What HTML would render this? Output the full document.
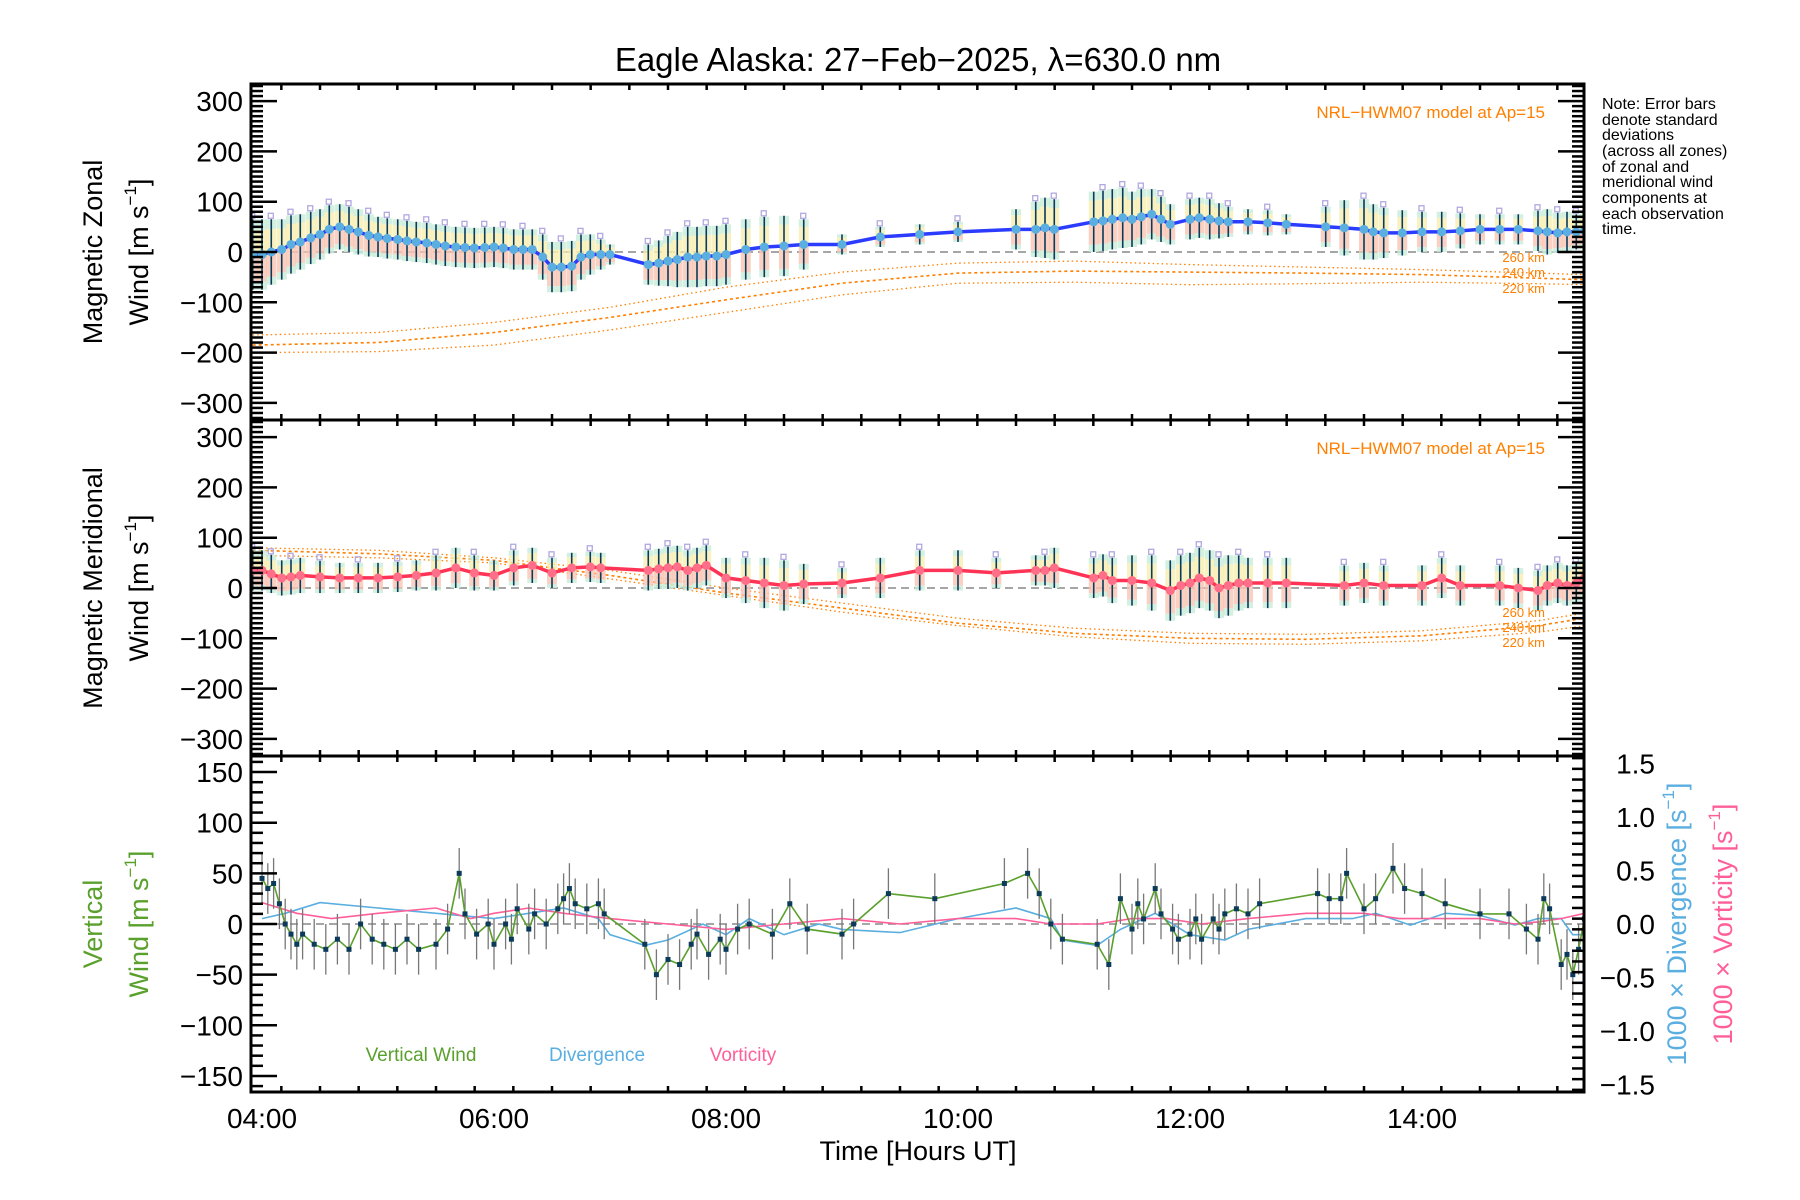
<!DOCTYPE html>
<html><head><meta charset="utf-8"><style>
html,body{margin:0;padding:0;background:#fff;}
svg{display:block;font-family:"Liberation Sans",sans-serif;}
</style></head><body>
<svg id="chart" width="1800" height="1200" viewBox="0 0 1800 1200" xmlns="http://www.w3.org/2000/svg">
<rect width="1800" height="1200" fill="#fff"/>
<text x="918" y="71" font-size="33" text-anchor="middle">Eagle Alaska: 27−Feb−2025, λ=630.0 nm</text>
<g font-size="16">
<text x="1602" y="109">Note: Error bars</text>
<text x="1602" y="125">denote standard</text>
<text x="1602" y="140">deviations</text>
<text x="1602" y="156">(across all zones)</text>
<text x="1602" y="172">of zonal and</text>
<text x="1602" y="187">meridional wind</text>
<text x="1602" y="203">components at</text>
<text x="1602" y="219">each observation</text>
<text x="1602" y="234">time.</text>
</g>
<text transform="translate(102,252) rotate(-90)" font-size="27" text-anchor="middle">Magnetic Zonal</text>
<text transform="translate(148,252) rotate(-90)" font-size="27" text-anchor="middle">Wind [m s<tspan font-size="17" dy="-12">−1</tspan><tspan dy="12">]</tspan></text>
<text transform="translate(102,588) rotate(-90)" font-size="27" text-anchor="middle">Magnetic Meridional</text>
<text transform="translate(148,588) rotate(-90)" font-size="27" text-anchor="middle">Wind [m s<tspan font-size="17" dy="-12">−1</tspan><tspan dy="12">]</tspan></text>
<text transform="translate(102,924) rotate(-90)" font-size="27" text-anchor="middle" fill="#5aa02c">Vertical</text>
<text transform="translate(148,924) rotate(-90)" font-size="27" text-anchor="middle" fill="#5aa02c">Wind [m s<tspan font-size="17" dy="-12">−1</tspan><tspan dy="12">]</tspan></text>
<text transform="translate(1686,924) rotate(-90)" font-size="27" text-anchor="middle" fill="#5aaee0">1000 × Divergence [s<tspan font-size="17" dy="-12">−1</tspan><tspan dy="12">]</tspan></text>
<text transform="translate(1732,924) rotate(-90)" font-size="27" text-anchor="middle" fill="#ff5f99">1000 × Vorticity [s<tspan font-size="17" dy="-12">−1</tspan><tspan dy="12">]</tspan></text>
<text x="918" y="1160" font-size="27" text-anchor="middle">Time [Hours UT]</text>
<text x="421" y="1061" font-size="19" fill="#5aa02c" text-anchor="middle">Vertical Wind</text>
<text x="597" y="1061" font-size="19" fill="#5aaee0" text-anchor="middle">Divergence</text>
<text x="743" y="1061" font-size="19" fill="#ff5f99" text-anchor="middle">Vorticity</text>
<g id="plot"></g>
</svg>
<script>
// ---- data ----
const zonalTimes=[3.92,4.0,4.08,4.17,4.25,4.33,4.42,4.5,4.58,4.67,4.75,4.83,4.92,5.0,5.08,5.17,5.25,5.33,5.42,5.5,5.58,5.67,5.75,5.83,5.92,6.0,6.08,6.17,6.25,6.33,6.42,6.5,6.58,6.67,6.75,6.83,6.92,7.0,7.33,7.42,7.5,7.58,7.67,7.75,7.83,7.92,8.0,8.17,8.33,8.5,8.67,9.0,9.33,9.67,10.0,10.5,10.67,10.75,10.83,11.17,11.25,11.33,11.42,11.5,11.58,11.67,11.75,11.83,12.0,12.08,12.17,12.25,12.33,12.5,12.67,12.83,13.17,13.33,13.5,13.58,13.67,13.83,14.0,14.17,14.33,14.5,14.67,14.83,15.0,15.08,15.17,15.25,15.33,15.4];
const zonalValues=[-5,-5,0,5,15,20,28,35,45,50,45,40,33,30,27,25,22,20,18,15,12,10,9,8,9,10,8,5,5,5,-10,-30,-30,-28,-10,-5,-5,-5,-25,-22,-18,-15,-10,-10,-8,-8,-5,5,10,12,15,15,30,35,40,45,45,48,45,60,62,65,68,65,70,75,65,55,65,68,65,62,60,60,58,55,50,48,45,40,38,38,40,40,42,45,45,45,42,40,38,40,40,42];
const zonalErrors=[70,70,65,60,58,55,52,50,48,45,45,45,42,40,40,40,40,40,40,40,40,40,40,40,40,40,40,40,40,40,45,50,50,50,45,40,30,20,40,45,50,55,60,60,60,60,60,60,60,60,50,20,20,20,20,40,55,60,60,60,60,60,60,55,55,50,45,40,40,40,40,35,30,25,25,20,40,55,60,55,50,45,40,40,35,30,30,30,40,45,40,40,35,35];
const meridTimes=[3.92,4.0,4.08,4.17,4.25,4.33,4.5,4.67,4.83,5.0,5.17,5.33,5.5,5.67,5.83,6.0,6.17,6.33,6.5,6.67,6.83,6.92,7.33,7.42,7.5,7.58,7.67,7.75,7.83,8.0,8.17,8.33,8.5,8.67,9.0,9.33,9.67,10.0,10.33,10.67,10.75,10.83,11.17,11.25,11.33,11.5,11.67,11.83,11.92,12.0,12.08,12.17,12.25,12.33,12.42,12.5,12.67,12.83,13.33,13.5,13.67,14.0,14.17,14.33,14.67,14.83,15.0,15.08,15.17,15.25,15.33,15.4];
const meridValues=[35,35,28,20,22,25,22,20,20,20,22,25,30,40,30,25,40,45,30,40,42,40,35,38,40,42,35,40,45,20,15,10,5,8,10,20,35,35,30,35,35,40,20,25,15,15,10,-5,5,10,20,15,0,5,10,10,10,10,5,10,5,5,20,5,5,0,-5,5,10,5,10,20];
const meridErrors=[40,40,38,35,35,35,32,30,30,30,30,30,35,40,35,30,35,35,30,30,30,30,40,40,42,42,40,40,40,40,45,50,50,40,30,40,40,40,30,30,30,40,40,42,45,50,55,60,60,60,60,60,60,60,55,50,50,50,40,40,40,40,40,40,40,40,40,40,40,40,40,40];
const modelTimes=[3.92,5.0,6.0,7.0,8.0,9.0,10.0,11.0,12.0,13.0,14.0,15.0,15.4];
const zonal260=[-165,-160,-140,-110,-70,-40,-22,-18,-25,-30,-35,-42,-45];
const zonal240=[-185,-180,-160,-130,-95,-62,-42,-38,-40,-42,-45,-52,-55];
const zonal220=[-200,-198,-185,-155,-120,-85,-62,-60,-65,-63,-60,-63,-65];
const merid260=[80,75,60,35,0,-30,-60,-80,-90,-92,-85,-65,-50];
const merid240=[75,68,55,25,-10,-40,-70,-90,-100,-102,-95,-75,-60];
const merid220=[65,60,50,18,-15,-48,-75,-97,-110,-112,-105,-88,-75];
const vertTimes=[4.0,4.05,4.1,4.15,4.2,4.25,4.3,4.35,4.45,4.55,4.65,4.75,4.85,4.95,5.05,5.15,5.25,5.35,5.5,5.6,5.7,5.75,5.85,5.95,6.0,6.1,6.15,6.2,6.3,6.35,6.45,6.55,6.6,6.65,6.7,6.8,6.9,6.95,7.3,7.4,7.5,7.6,7.7,7.75,7.85,7.95,8.0,8.1,8.2,8.4,8.55,8.7,9.0,9.1,9.4,9.8,10.4,10.6,10.7,10.8,10.9,11.2,11.3,11.4,11.5,11.55,11.6,11.7,11.75,11.85,11.9,12.0,12.05,12.1,12.2,12.25,12.3,12.4,12.5,12.6,13.1,13.2,13.3,13.35,13.5,13.6,13.75,13.85,14.0,14.2,14.5,14.75,14.9,15.0,15.05,15.1,15.2,15.25,15.3,15.35,15.4];
const vertValues=[45,35,40,20,0,-10,-20,-10,-20,-25,-15,-25,0,-15,-20,-25,-15,-25,-20,-5,50,10,-10,0,-20,0,-15,15,-5,10,0,15,25,35,20,15,20,10,-20,-50,-35,-40,-20,-10,-30,-15,-25,-5,0,-10,20,-5,-10,0,30,25,40,50,30,0,-15,-20,-40,25,-5,20,5,35,10,-5,-15,-10,5,-15,5,-5,10,15,10,20,30,25,25,50,15,25,55,35,30,20,10,10,-5,-15,25,15,-40,-30,-50,-25,5];
const divTimes=[4.0,4.2,4.5,5.0,5.5,6.0,6.3,6.6,6.9,7.0,7.3,7.5,7.8,8.0,8.2,8.5,8.8,9.0,9.5,10.0,10.5,10.8,10.9,11.2,11.4,11.7,12.0,12.3,12.5,13.0,13.4,13.6,13.9,14.2,14.5,14.8,15.0,15.2,15.3,15.4];
const divValues=[0.05,0.1,0.2,0.15,0.1,0.05,0.1,0.15,0.05,-0.1,-0.2,-0.15,0.0,-0.1,0.05,-0.1,0.0,-0.05,-0.08,0.05,0.15,0.05,-0.15,-0.2,-0.05,0.1,-0.1,-0.15,-0.05,0.05,0.05,0.1,-0.01,0.1,0.08,-0.01,0.05,0.05,-0.1,-0.1];
const vortTimes=[4.0,4.3,4.6,5.0,5.5,5.8,6.0,6.3,6.6,7.0,7.5,8.0,8.5,9.0,9.5,10.0,10.5,10.8,11.2,11.5,11.8,12.1,12.5,13.0,13.5,13.8,14.2,14.5,14.8,15.0,15.2,15.4];
const vortValues=[0.2,0.1,0.05,0.1,0.15,0.05,0.1,0.15,0.1,0.05,0.0,-0.05,0.0,0.05,0.0,0.05,0.05,0.0,0.0,0.05,0.05,0.0,0.05,0.1,0.1,0.05,0.05,0.05,0.0,0.02,0.05,0.1];
const xTickLabels=["04:00","06:00","08:00","10:00","12:00","14:00"];
const windTicks=[-300,-200,-100,0,100,200,300];
const vertTicks=[-150,-100,-50,0,50,100,150];
const rightTicks=[-1.5,-1.0,-0.5,0.0,0.5,1.0,1.5];

// ---- scales ----
const L=251,R=1584;
const P=[{top:84,bot:420,c:252},{top:420,bot:756,c:588},{top:756,bot:1092,c:924}];
const x=t=>262+(t-4)*116;
const y1=v=>252-v*0.503, y2=v=>588-v*0.503, y3=v=>924-v*1.013, yr=v=>924-v*107;
const NS="http://www.w3.org/2000/svg";
const g=document.getElementById('plot');
function mk(tag,at,parent){const e=document.createElementNS(NS,tag);for(const k in at)e.setAttribute(k,at[k]);(parent||g).appendChild(e);return e;}
function poly(ts,vs,ys){return ts.map((t,i)=>x(t).toFixed(1)+','+ys(vs[i]).toFixed(1)).join(' ');}

const clip=mk('clipPath',{id:'cp'});mk('rect',{x:L,y:84,width:R-L,height:1008},clip);
const plotArea=mk('g',{'clip-path':'url(#cp)'});

[y1(0),y2(0),y3(0)].forEach((yy,i)=>{
 const e=mk('line',{x1:L,x2:R,y1:yy,y2:yy,stroke:'#888','stroke-width':1.5,'stroke-dasharray':'8,5'},plotArea);
 
 
});

function model(vals,ys,w,dash){
 const e=mk('polyline',{points:poly(modelTimes,vals,ys),fill:'none',stroke:'#ff7f00','stroke-width':w,'stroke-dasharray':dash},plotArea);
 
 
}
model(zonal260,y1,1.3,'1.5,3');model(zonal240,y1,1.6,'3,3');model(zonal220,y1,1.3,'1.5,3');
model(merid260,y2,1.3,'1.5,3');model(merid240,y2,1.6,'3,3');model(merid220,y2,1.3,'1.5,3');

function bars(ts,vs,es,ys,name){
 ts.forEach((t,i)=>{
  const xx=x(t),top=ys(vs[i]+es[i]),mid=ys(vs[i]),bot=ys(vs[i]-es[i]);
  const h=(bot-top);
  const b0=mk('rect',{x:xx-5,y:top,width:10,height:h*0.15,fill:'#c9ecd8',opacity:0.8},plotArea);
  
  
  const b1=mk('rect',{x:xx-5,y:top+h*0.15,width:10,height:h*0.35,fill:'#f7efb0',opacity:0.8},plotArea);
  
  
  const b2=mk('rect',{x:xx-5,y:mid,width:10,height:h*0.38,fill:'#f8c4b2',opacity:0.8},plotArea);
  
  
  const b3=mk('rect',{x:xx-5,y:mid+h*0.38,width:10,height:h*0.12,fill:'#c9ecd8',opacity:0.8},plotArea);
  
  
  if(i%2===0){
   const s1=mk('rect',{x:xx-3,y:top-6,width:5,height:5,fill:'none',stroke:'#b2a8e0','stroke-width':1.3},plotArea);
   
   
  }
  const l=mk('line',{x1:xx,x2:xx,y1:top,y2:bot,stroke:'#0b3a5a','stroke-width':1.6},plotArea);
  
  
 });
}
bars(zonalTimes,zonalValues,zonalErrors,y1,'zonal');
bars(meridTimes,meridValues,meridErrors,y2,'meridional');

function series(ts,vs,ys,color,dot,name){
 const e=mk('polyline',{points:poly(ts,vs,ys),fill:'none',stroke:color,'stroke-width':3.5},plotArea);
 
 
 ts.forEach((t,i)=>{
  const c=mk('circle',{cx:x(t),cy:ys(vs[i]),r:4.5,fill:dot},plotArea);
  
  
 });
}
series(zonalTimes,zonalValues,y1,'#2b3cff','#5aaee0','zonal');
series(meridTimes,meridValues,y2,'#ff3355','#ff6f8a','meridional');

const dv=mk('polyline',{points:poly(divTimes,divValues,yr),fill:'none',stroke:'#5aaee0','stroke-width':1.6},plotArea);


const vo=mk('polyline',{points:poly(vortTimes,vortValues,yr),fill:'none',stroke:'#ff5f99','stroke-width':1.6},plotArea);


vertTimes.forEach((t,i)=>{
 const e=mk('line',{x1:x(t),x2:x(t),y1:y3(vertValues[i]+25),y2:y3(vertValues[i]-25),stroke:'#777','stroke-width':1.3},plotArea);
 
 
});
const vw=mk('polyline',{points:poly(vertTimes,vertValues,y3),fill:'none',stroke:'#5aa02c','stroke-width':1.6},plotArea);


vertTimes.forEach((t,i)=>{
 const e=mk('rect',{x:x(t)-2.5,y:y3(vertValues[i])-2.5,width:5,height:5,fill:'#0b3a5a'},plotArea);
 
 
});

[[1,257,'260 km'],[1,272,'240 km'],[1,288,'220 km'],[2,612,'260 km'],[2,627,'240 km'],[2,642,'220 km']].forEach(a=>{
 const e=mk('text',{x:1545,y:a[1]+5,'font-size':13,fill:'#ff7f00','text-anchor':'end'});e.textContent=a[2];
 
 
});
[112,448].forEach(yy=>{
 const e=mk('text',{x:1545,y:yy+6,'font-size':17,fill:'#ff7f00','text-anchor':'end'});e.textContent='NRL−HWM07 model at Ap=15';
 
 
});

P.forEach((p,i)=>{
 const e=mk('rect',{x:L,y:p.top,width:R-L,height:p.bot-p.top,fill:'none',stroke:'#000','stroke-width':3});
 
 
 for(let m=4*60-10;m<=15.4*60;m+=20){const t=m/60;if(t<3.905)continue;const xx=x(t);const maj=(m%120===0);const len=maj?13:6;
  mk('line',{x1:xx,x2:xx,y1:p.top,y2:p.top+len,stroke:'#000','stroke-width':maj?3:2.5});
  mk('line',{x1:xx,x2:xx,y1:p.bot,y2:p.bot-len,stroke:'#000','stroke-width':maj?3:2.5});}
});
function yTicks(ys,min,max,minorStep,majorStep,side){
 for(let v=min;v<=max+1e-9;v+=minorStep){const yy=ys(v);const maj=Math.abs(v/majorStep-Math.round(v/majorStep))<1e-6;const len=maj?26:12;
  if(side!=='right')mk('line',{x1:L,x2:L+len,y1:yy,y2:yy,stroke:'#000','stroke-width':2.5});
  if(side!=='left')mk('line',{x1:R,x2:R-len,y1:yy,y2:yy,stroke:'#000','stroke-width':2.5});}
}
yTicks(y1,-330,330,10,100,'both');yTicks(y2,-330,330,10,100,'both');
yTicks(y3,-160,160,10,50,'left');yTicks(yr,-1.55,1.55,0.1,0.5,'right');
windTicks.forEach(v=>{[y1,y2].forEach(ys=>{const e=mk('text',{x:243,y:ys(v)+10,'font-size':28,'text-anchor':'end'});e.textContent=(v<0?'−':'')+Math.abs(v);
 
 });});
vertTicks.forEach(v=>{const e=mk('text',{x:243,y:y3(v)+10,'font-size':28,'text-anchor':'end'});e.textContent=(v<0?'−':'')+Math.abs(v);
 
 });
rightTicks.forEach(v=>{const e=mk('text',{x:1655,y:yr(v)+10,'font-size':28,'text-anchor':'end'});e.textContent=(v<0?'−':'')+Math.abs(v).toFixed(1);
 
 });
xTickLabels.forEach((s,i)=>{const e=mk('text',{x:x(4+2*i),y:1128,'font-size':28,'text-anchor':'middle'});e.textContent=s;
 
 });
</script>
</body></html>
